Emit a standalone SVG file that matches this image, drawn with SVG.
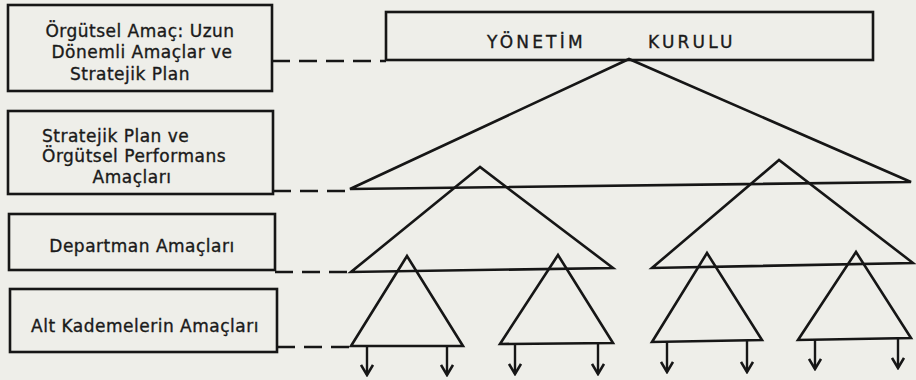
<svg xmlns="http://www.w3.org/2000/svg" width="916" height="380" viewBox="0 0 916 380">
<defs>
<style>
.bg{fill:#eeeee9}
.box{fill:none;stroke:#161616;stroke-width:2.6}
.tri{fill:none;stroke:#161616;stroke-width:2.6;stroke-linejoin:miter}
.dash{fill:none;stroke:#161616;stroke-width:2.6;stroke-dasharray:18 9}
.arr{fill:none;stroke:#161616;stroke-width:2.4;marker-end:url(#ah)}
.t{font-family:"DejaVu Sans","Liberation Sans",sans-serif;font-size:17px;fill:#1a1a1a;stroke:#1a1a1a;stroke-width:0.35px;letter-spacing:0.5px}
.yk{font-family:"DejaVu Sans","Liberation Sans",sans-serif;font-size:17px;fill:#1a1a1a;stroke:#1a1a1a;stroke-width:0.35px;letter-spacing:3.2px}
</style>
<marker id="ah" viewBox="0 0 13 14" refX="11" refY="7" markerWidth="13" markerHeight="14" markerUnits="userSpaceOnUse" orient="auto">
<path d="M1,1 L11,7 L1,13" fill="none" stroke="#161616" stroke-width="2.6"/>
</marker>
</defs>
<rect class="bg" x="0" y="0" width="916" height="380"/>

<g id="box1">
<rect class="box" x="8" y="5" width="264" height="86"/>
<text class="t" x="140" y="37" text-anchor="middle">Örgütsel Amaç: Uzun</text>
<text class="t" x="142" y="58" text-anchor="middle">Dönemli Amaçlar ve</text>
<text class="t" x="130" y="80" text-anchor="middle">Stratejik  Plan</text>
</g>
<g id="box2">
<rect class="box" x="8" y="111" width="265" height="83"/>
<text class="t" x="42" y="142">Stratejik Plan ve</text>
<text class="t" x="42" y="162">Örgütsel Performans</text>
<text class="t" x="132" y="183" text-anchor="middle">Amaçları</text>
</g>
<g id="box3">
<rect class="box" x="9" y="214" width="266" height="56"/>
<text class="t" x="142" y="252" text-anchor="middle">Departman Amaçları</text>
</g>
<g id="box4">
<rect class="box" x="10" y="289" width="267" height="63"/>
<text class="t" x="145" y="332" text-anchor="middle">Alt Kademelerin Amaçları</text>
</g>
<g id="yonetim-kurulu">
<rect class="box" x="386" y="12" width="487" height="48"/>
<text class="yk" x="487" y="48">YÖNETİM</text>
<text class="yk" x="648" y="48">KURULU</text>
</g>

<g id="triangles">
<polygon class="tri" points="629,59 350,189 911,182"/>
<polygon class="tri" points="480,167 351,272 613,268"/>
<polygon class="tri" points="779,160 652,268 913,263"/>
<polygon class="tri" points="407,256 351,346 463,346"/>
<polygon class="tri" points="558,255 500,344 613,343"/>
<polygon class="tri" points="707,253 652,342 762,340"/>
<polygon class="tri" points="856,252 798,340 911,338"/>
</g>

<g id="connectors">
<line class="dash" x1="272" y1="61" x2="386" y2="61"/>
<line class="dash" x1="273" y1="191" x2="350" y2="191"/>
<line class="dash" x1="275" y1="272" x2="351" y2="272"/>
<line class="dash" x1="277" y1="347" x2="351" y2="347"/>
<line class="arr" x1="367" y1="346" x2="367" y2="375"/>
<line class="arr" x1="447" y1="346" x2="447" y2="375"/>
<line class="arr" x1="515" y1="344" x2="515" y2="374"/>
<line class="arr" x1="598" y1="343" x2="598" y2="374"/>
<line class="arr" x1="667" y1="342" x2="667" y2="372"/>
<line class="arr" x1="747" y1="341" x2="747" y2="372"/>
<line class="arr" x1="815" y1="340" x2="815" y2="369"/>
<line class="arr" x1="898" y1="338" x2="898" y2="368"/>
</g>
</svg>
